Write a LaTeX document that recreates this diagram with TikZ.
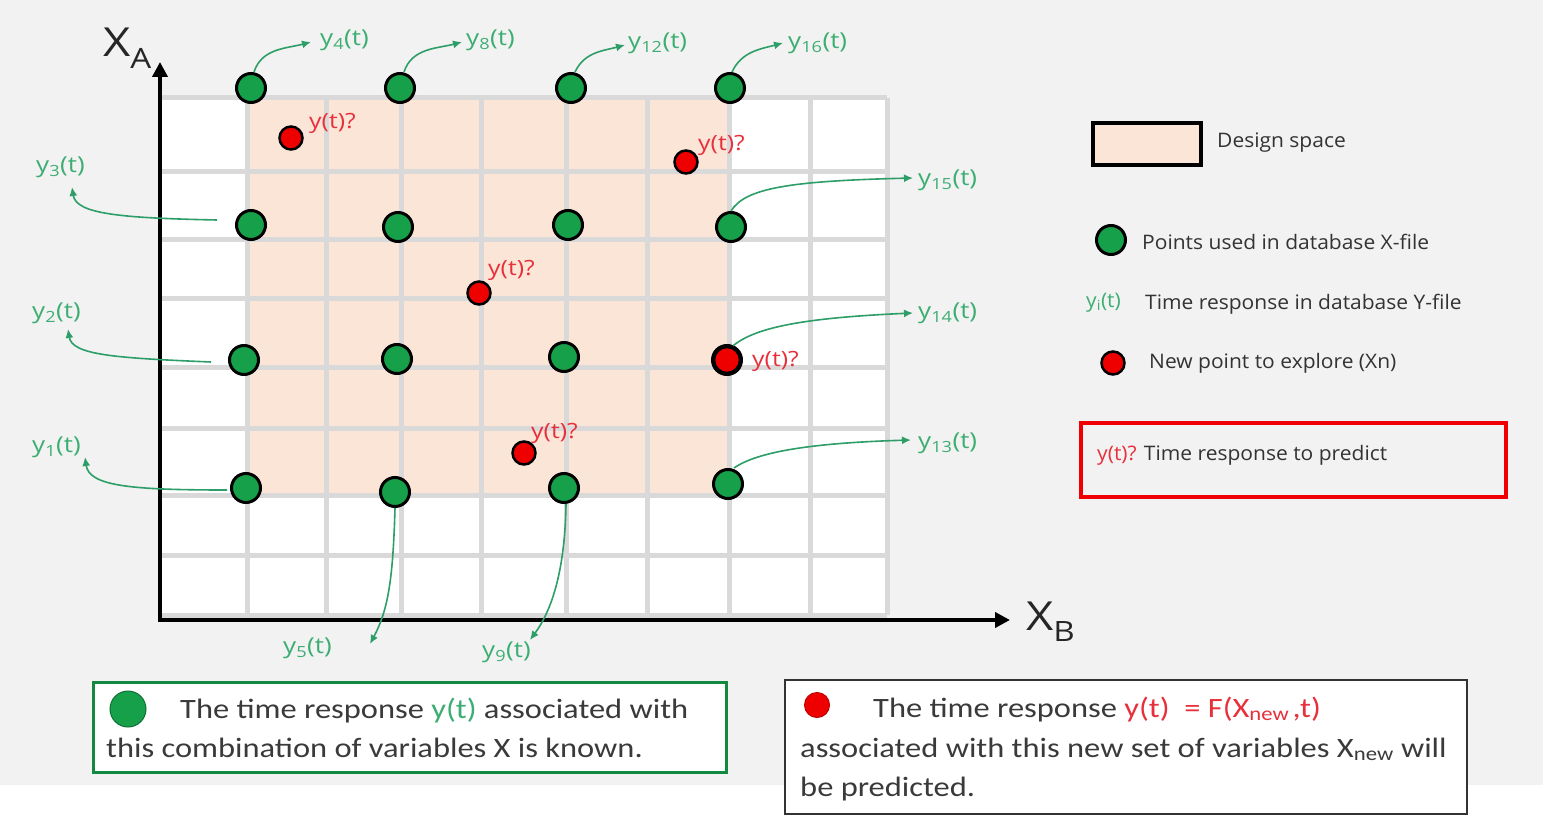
\documentclass[tikz,border=0pt]{standalone}
\usepackage{fontspec}
\setmainfont{Carlito}
\newfontfamily\bfnt[FakeStretch=1.16]{Carlito}
\newfontfamily\osans{Open Sans}
\newfontfamily\lsans[FakeStretch=1.05]{Open Sans}
\newfontfamily\ysans[FakeStretch=1.18]{Open Sans}
\usetikzlibrary{arrows.meta}
\definecolor{bg}{HTML}{F2F2F2}
\definecolor{peach}{HTML}{FBE5D6}
\definecolor{gridgray}{HTML}{D9D9D9}
\definecolor{ptgreen}{HTML}{16A04A}
\definecolor{lblgreen}{HTML}{3DAE72}
\definecolor{arrgreen}{HTML}{2E9E68}
\definecolor{ptred}{HTML}{EE0000}
\definecolor{lblred}{HTML}{E8303C}
\definecolor{boxred}{HTML}{F00000}
\definecolor{txt}{HTML}{333333}
\definecolor{btxt}{HTML}{3A3A3A}
\begin{document}
\begin{tikzpicture}[x=1pt,y=1pt,
 gpt/.style={circle,draw=black,line width=3pt,fill=ptgreen,minimum size=29pt,inner sep=0pt},
 rpt/.style={circle,draw=black,line width=2.5pt,fill=ptred,minimum size=23pt,inner sep=0pt},
 ylab/.style={font=\ysans\fontsize{22}{24}\selectfont,text=lblgreen,inner sep=0pt,anchor=west},
 qlab/.style={font=\ysans\fontsize{21}{24}\selectfont,text=lblred,inner sep=0pt,anchor=west},
 garr/.style={draw=arrgreen,line width=1.6pt,-{Latex[length=9pt,width=8pt]}},
 leg/.style={font=\lsans\fontsize{20}{24}\selectfont,text=txt,inner sep=0pt,anchor=west},
 btext/.style={font=\bfnt\fontsize{28}{39}\selectfont,text=btxt,inner sep=0pt,anchor=base west},
 gridline/.style={draw=gridgray,line width=5pt},
]
\useasboundingbox (0,0) rectangle (1543,-816);
\fill[white] (0,0) rectangle (1543,-816);
\fill[bg] (0,0) rectangle (1543,-785);

% grid
\fill[white] (160,-98) rectangle (887,-615);
\fill[peach] (247,-98) rectangle (729,-495);
\foreach \y in {98,171,239,298,367,428,495,555,615}
  \draw[gridline] (160,-\y) -- (887,-\y);
\foreach \x in {247,326,401,481,566,647,729,810,887}
  \draw[gridline] (\x,-98) -- (\x,-615);

% axes
\coordinate (axtop) at (160,-62);
\coordinate (axorig) at (160,-620);
\coordinate (axright) at (1010,-620);
\draw[line width=4.5pt,line join=miter,{Triangle[length=15pt,width=15pt]}-{Triangle[length=15pt,width=15pt]}] (axtop) -- (axorig) -- (axright);
\node[font=\ysans\fontsize{40}{44}\selectfont,text=black!85,inner sep=0pt,anchor=west] (xa) at (103,-48) {X\textsubscript{A}};
\node[font=\ysans\fontsize{40}{44}\selectfont,text=black!85,inner sep=0pt,anchor=west] (xb) at (1026,-622) {X\textsubscript{B}};

% green points
\node[gpt] (g4) at (251,-88) {};
\node[gpt] (g8) at (400,-88) {};
\node[gpt] (g12) at (571,-88) {};
\node[gpt] (g16) at (730,-88) {};
\node[gpt] (g3) at (251,-225) {};
\node[gpt] (g7) at (398,-227) {};
\node[gpt] (g11) at (568,-225) {};
\node[gpt] (g15) at (731,-227) {};
\node[gpt] (g2) at (244,-360) {};
\node[gpt] (g6) at (397,-359) {};
\node[gpt] (g10) at (564,-357) {};
\node[gpt] (g14) at (727,-360) {};
\node[gpt] (g1) at (246,-488) {};
\node[gpt] (g5) at (395,-492) {};
\node[gpt] (g9) at (564,-488) {};
\node[gpt] (g13) at (728,-484) {};

% red points
\node[rpt] (r1) at (291,-138) {};
\node[rpt] (r2) at (686,-162) {};
\node[rpt] (r3) at (479,-293) {};
\node[rpt] (r4) at (524,-453) {};
\node[rpt,minimum size=26pt] (r5) at (727,-360) {};

\node[qlab] (q1) at (309,-123) {y(t)?};
\node[qlab] (q2) at (698,-145) {y(t)?};
\node[qlab] (q3) at (488,-270) {y(t)?};
\node[qlab] (q4) at (531,-433) {y(t)?};
\node[qlab] (q5) at (752,-361) {y(t)?};

% response labels
\node[ylab] (y4) at (320,-40) {y\textsubscript{4}(t)};
\node[ylab] (y8) at (466,-40) {y\textsubscript{8}(t)};
\node[ylab] (y12) at (628,-43) {y\textsubscript{12}(t)};
\node[ylab] (y16) at (788,-43) {y\textsubscript{16}(t)};
\node[ylab] (y3) at (36,-167) {y\textsubscript{3}(t)};
\node[ylab] (y2) at (32,-313) {y\textsubscript{2}(t)};
\node[ylab] (y1) at (32,-447) {y\textsubscript{1}(t)};
\node[ylab] (y5) at (283,-648) {y\textsubscript{5}(t)};
\node[ylab] (y9) at (482,-652) {y\textsubscript{9}(t)};
\node[ylab] (y15) at (918,-180) {y\textsubscript{15}(t)};
\node[ylab] (y14) at (918,-313) {y\textsubscript{14}(t)};
\node[ylab] (y13) at (918,-443) {y\textsubscript{13}(t)};

% arrow tips
\coordinate (t4) at (311,-42);
\coordinate (t8) at (462,-42);
\coordinate (t12) at (625,-45);
\coordinate (t16) at (783,-43);
\coordinate (t3) at (72,-187);
\coordinate (t2) at (68,-329);
\coordinate (t1) at (85,-457);
\coordinate (t5) at (370,-644);
\coordinate (t9) at (530,-640);
\coordinate (t15) at (913,-178);
\coordinate (t14) at (913,-313);
\coordinate (t13) at (911,-440);

\draw[garr] ([xshift=3pt]g4.north) to[out=72,in=195] (t4);
\draw[garr] ([xshift=4pt]g8.north) to[out=72,in=195] (t8);
\draw[garr] ([xshift=4pt]g12.north) to[out=65,in=195] (t12);
\draw[garr] ([xshift=2pt]g16.north) to[out=65,in=195] (t16);
\draw[garr] ([shift={(-18pt,5pt)}]g3.west) .. controls (120,-218) and (76,-214) .. (t3);
\draw[garr] ([shift={(-17pt,-2pt)}]g2.west) .. controls (115,-358) and (72,-355) .. (t2);
\draw[garr] ([shift={(-3pt,-2pt)}]g1.west) .. controls (130,-490) and (89,-486) .. (t1);
\draw[garr] (g5.south) .. controls (393,-580) and (388,-610) .. (t5);
\draw[garr] ([xshift=2pt]g9.south) .. controls (565,-570) and (552,-610) .. (t9);
\draw[garr] (g15.north) .. controls (745,-188) and (790,-181) .. (t15);
\draw[garr] ([xshift=6pt]r5.north) .. controls (755,-328) and (800,-318) .. (t14);
\draw[garr] ([xshift=6pt]g13.north) .. controls (757,-452) and (810,-443) .. (t13);

% legend
\node[draw=black,line width=4pt,fill=peach,minimum width=108pt,minimum height=42pt,inner sep=0pt] (legrect) at (1147,-143.5) {};
\node[leg] (legds) at (1217,-143) {Design space};
\node[gpt] (leggp) at (1111,-240) {};
\node[leg] (leggt) at (1142,-242) {Points used in database X-file};
\node[leg,text=lblgreen] (legyi) at (1086,-303) {y\textsubscript{i}(t)};
\node[leg] (legyt) at (1145,-304) {Time response in database Y-file};
\node[rpt] (legrp) at (1113,-363) {};
\node[leg] (legrt) at (1149,-363) {New point to explore (Xn)};
\node[draw=boxred,line width=4.5pt,minimum width=425pt,minimum height=74pt,inner sep=0pt] (legbox) at (1293.5,-460) {};
\node[leg] (legbt) at (1097,-455) {\textcolor{lblred}{y(t)?} Time response to predict};

% bottom left box
\node[draw=ptgreen!85!black,line width=3pt,fill=white,minimum width=633pt,minimum height=90pt,inner sep=0pt] (gbox) at (409.5,-727) {};
\node[circle,fill=ptgreen,draw=ptgreen!70!black,line width=1pt,minimum width=36pt,inner sep=0pt] (gbdot) at (128,-709) {};
\node[btext] (gl1) at (180,-718) {The time response \textcolor{lblgreen}{y(t)} associated with};
\node[btext] (gl2) at (106,-757) {this combination of variables X is known.};

% bottom right box
\node[draw=black!80,line width=2pt,fill=white,minimum width=682pt,minimum height=134pt,inner sep=0pt] (rbox) at (1126,-747) {};
\node[circle,fill=ptred,draw=ptred!80!black,line width=1pt,minimum width=25pt,inner sep=0pt] (rbdot) at (817,-705) {};
\node[btext] (rl1) at (873,-717) {The time response \textcolor{lblred}{y(t)\ \ = F(X\textsubscript{new\,},t)}};
\node[btext] (rl2) at (800,-757) {associated with this new set of variables X\textsubscript{new} will};
\node[btext] (rl3) at (800,-796) {be predicted.};
\end{tikzpicture}
\end{document}
